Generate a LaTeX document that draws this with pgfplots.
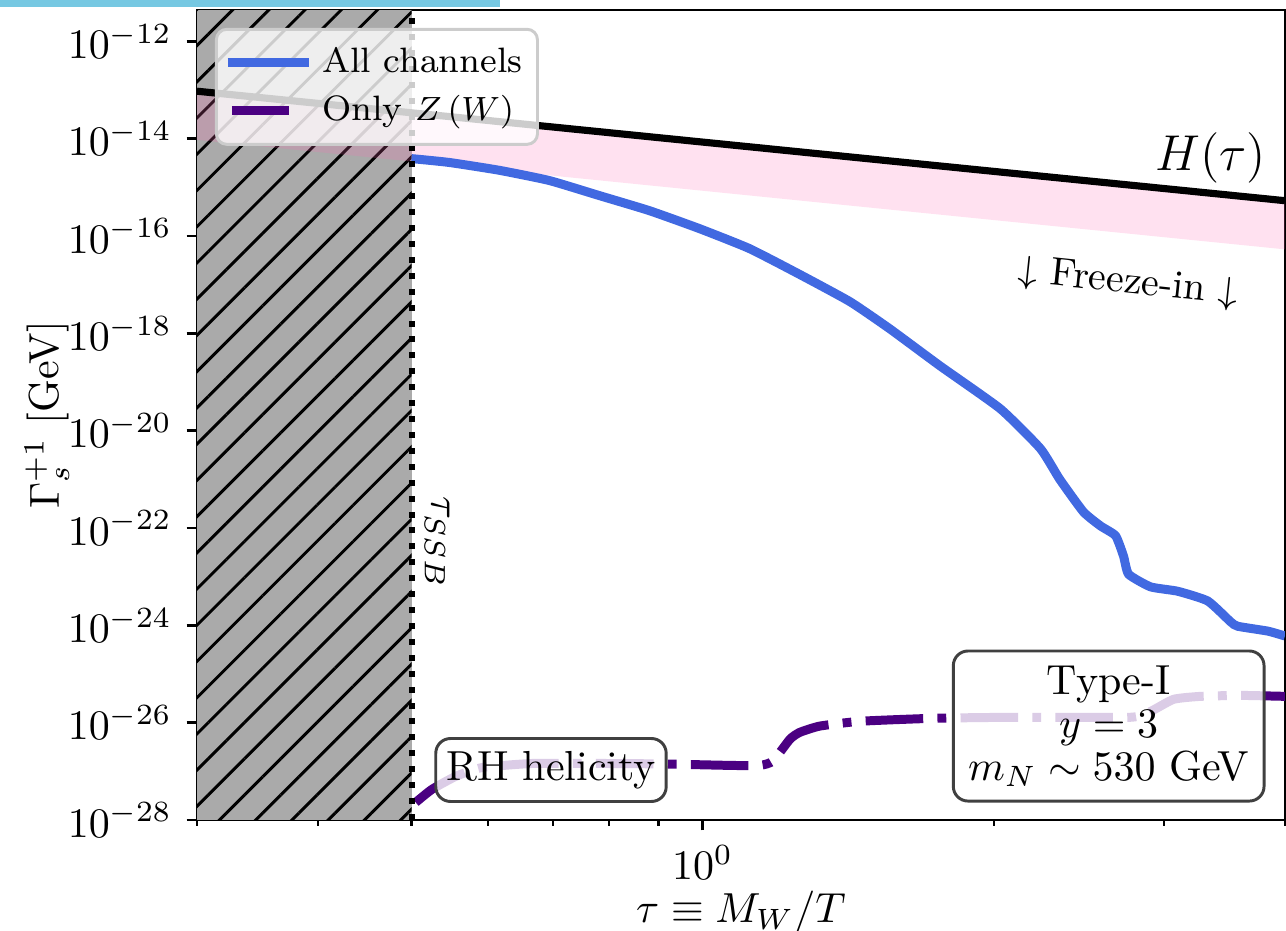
\documentclass[border=0pt]{standalone}
\usepackage{pgfplots}
\pgfplotsset{compat=1.18}
\usetikzlibrary{patterns.meta}
\definecolor{allblue}{RGB}{65,105,225}
\definecolor{zpurple}{RGB}{75,0,130}
\definecolor{hatchgray}{RGB}{170,170,170}
\definecolor{bandpink}{RGB}{255,105,180}
\definecolor{topbar}{RGB}{118,200,226}

\begin{document}
\begin{tikzpicture}
\begin{axis}[
  xmode=log, ymode=log,
  scale only axis, width=259.05pt, height=192.86pt,
  xmin=0.3, xmax=4, ymin=1e-28, ymax=4.4e-12,
  xtick={1},
  minor xtick={0.3,0.4,0.5,0.6,0.7,0.8,0.9,2,3,4},
  ytick={1e-28,1e-26,1e-24,1e-22,1e-20,1e-18,1e-16,1e-14,1e-12},
  yminorticks=false,
  xtick pos=bottom, ytick pos=left,
  tick align=outside,
  major tick length=2.5pt, minor tick length=1.43pt,
  every tick/.style={black, line width=0.57pt},
  axis line style={line width=0.57pt},
  xlabel={$\tau \equiv M_W/T$},
  ylabel={$\Gamma_s^{+1}$ [GeV]},
  xlabel style={at={(axis description cs:0.5,-0.127)}, anchor=base},
  ylabel style={at={(axis description cs:-0.1379,0.5)}, anchor=center},
  legend style={at={(rel axis cs:0.0165,0.978)}, anchor=north west,
    fill=white, fill opacity=0.8, draw opacity=1, text opacity=1,
    draw=black!20, line width=0.7pt, rounded corners=2.5pt,
    font=\fontsize{8.4pt}{10pt}\selectfont,
    inner xsep=1.6pt, inner ysep=2.2pt, row sep=0pt},
  legend cell align=left,
  legend image code/.code={\draw[#1, line cap=butt] (0pt,0pt) -- (19.5pt,0pt);},
]
% hatched region below tau_SSB
\addplot[draw=none, fill=hatchgray,
  postaction={pattern={Lines[angle=45,distance=6.1pt,line width=0.7pt]}, pattern color=black},
  forget plot] coordinates {(0.3,1e-28) (0.5,1e-28) (0.5,4.4e-12) (0.3,4.4e-12)} -- cycle;
% freeze-in band
\addplot[draw=none, fill=bandpink, fill opacity=0.2, forget plot]
  coordinates {(0.3,9.44e-14) (4,5.31e-16) (4,5.31e-17) (0.3,9.44e-15)} -- cycle;
% Hubble rate
\addplot[black, line width=1.7pt, forget plot] coordinates {(0.3,9.44e-14) (4,5.31e-16)};
% all channels
\addplot[allblue, line width=2.14pt, smooth, tension=0.3] coordinates {
(0.5,3.89e-15) (0.547,3.24e-15) (0.616,2.24e-15) (0.694,1.38e-15) (0.782,6.76e-16)
(0.881,3.31e-16) (0.993,1.41e-16) (1.118,5.5e-17) (1.26,1.62e-17) (1.42,4.47e-18)
(1.562,1.23e-18) (1.76,2.14e-19) (2.031,2.82e-20) (2.235,4.27e-21) (2.34,1.0e-21)
(2.476,2.14e-22) (2.579,1.10e-22) (2.673,6.92e-23) (2.724,2.63e-23) (2.757,1.12e-23)
(2.905,6.17e-24) (3.099,5.01e-24) (3.329,3.16e-24) (3.517,1.17e-24) (3.576,9.55e-25)
(3.842,7.59e-25) (4.0,6.03e-25)};
\addlegendentry{All channels}
% only Z(W)
\addplot[zpurple, line width=2.14pt, line cap=butt, smooth, tension=0.3,
  dash pattern=on 13.7pt off 3.4pt on 2.1pt off 3.4pt,
  legend image code/.code={\draw[zpurple, line width=2.14pt, line cap=butt] (1pt,0pt) -- (15pt,0pt);}] coordinates {
(0.505,2.3e-28) (0.525,4.27e-28) (0.556,7.94e-28) (0.592,1.20e-27) (0.667,1.45e-27)
(0.782,1.45e-27) (0.902,1.42e-27) (1.074,1.32e-27) (1.146,1.32e-27) (1.182,1.62e-27)
(1.231,4.57e-27) (1.26,6.31e-27) (1.322,8.51e-27) (1.458,1.07e-26) (1.736,1.23e-26)
(2.105,1.29e-26) (2.77,1.29e-26) (2.905,1.70e-26) (3.069,3.02e-26) (3.273,3.47e-26)
(3.602,3.63e-26) (4.0,3.47e-26)};
\addlegendentry{Only $Z\,(W)$}
% tau_SSB line
\addplot[black, line width=1.43pt, line cap=butt, dash pattern=on 1.43pt off 2.36pt, forget plot]
  coordinates {(0.5,1e-28) (0.5,4.4e-12)};
\node[rotate=-90, anchor=south, inner sep=3pt] at (axis cs:0.5,5.1e-23) {$\tau_{SSB}$};
\node[anchor=east, inner sep=0pt, font=\large] at (rel axis cs:0.9835,0.817) {$H(\tau)$};
\node[rotate=-6, font=\fontsize{9.5pt}{11pt}\selectfont] at (rel axis cs:0.856,0.663) {$\downarrow$ Freeze-in $\downarrow$};
\node[fill=white, fill opacity=0.8, text opacity=1, draw=black!75, line width=0.7pt,
  rounded corners=3.5pt, inner xsep=2.5pt, inner ysep=3pt]
  at (rel axis cs:0.3254,0.0617) {RH helicity};
\node[fill=white, fill opacity=0.8, text opacity=1, draw=black!75, line width=0.7pt,
  rounded corners=3.5pt, inner xsep=3.5pt, inner ysep=3.5pt, align=center,
  font=\fontsize{10pt}{10.2pt}\selectfont]
  at (rel axis cs:0.838,0.116) {Type-I\\ $y=3$\\ $m_N\sim 530$ GeV};
\end{axis}
\pgfresetboundingbox
\path[use as bounding box] (-46.9pt,-26.4pt) rectangle (259.3pt,195.24pt);
\fill[topbar] (-46.9pt,193.57pt) rectangle (72.1pt,195.24pt);
\end{tikzpicture}
\end{document}
